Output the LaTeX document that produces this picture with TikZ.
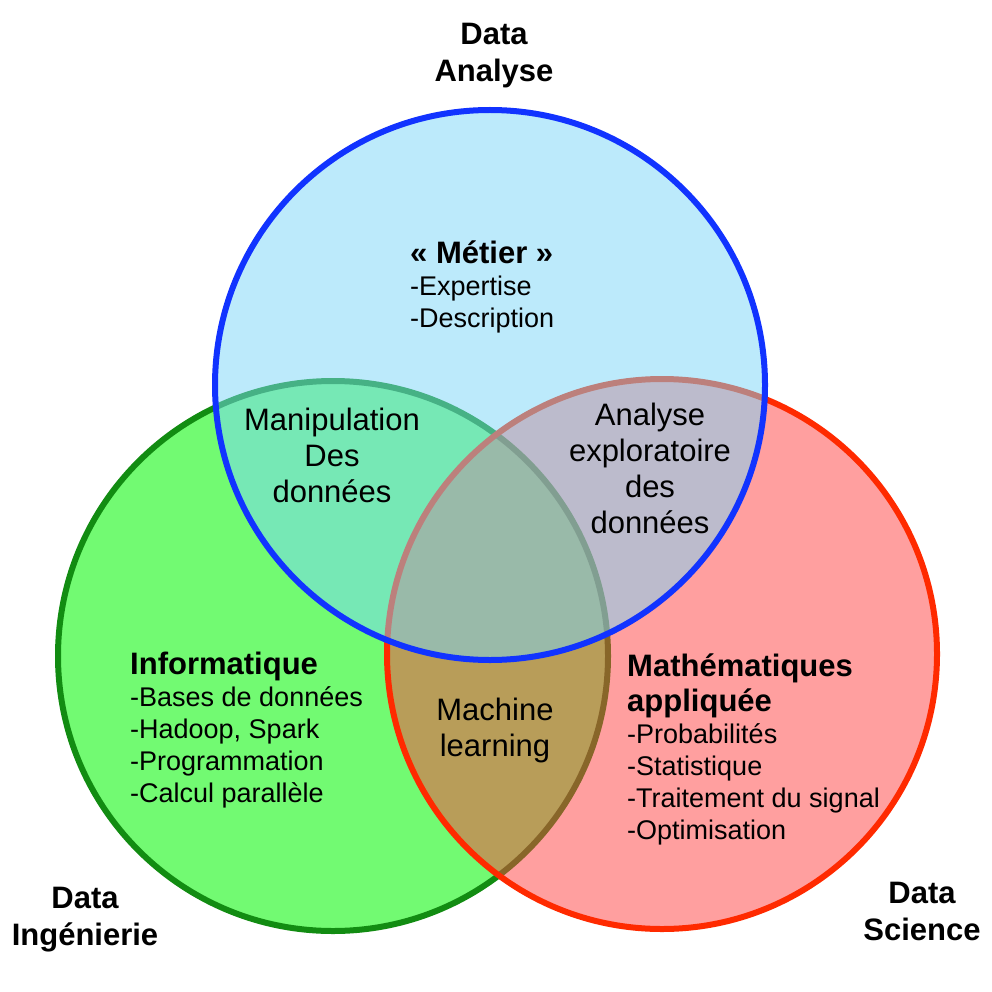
\documentclass[tikz,border=0pt]{standalone}
\usepackage{fontspec}
\setmainfont{Liberation Sans}

% circle colours
\definecolor{ingfill}{RGB}{114,250,114}
\definecolor{ingline}{RGB}{18,140,18}
\definecolor{scifill}{RGB}{255,65,65}
\definecolor{sciline}{RGB}{255,42,0}
\definecolor{anafill}{RGB}{123,215,249}
\definecolor{analine}{RGB}{17,51,255}

% bold title line inside a set
\newcommand\fieldtitlefont{\bfseries\fontsize{31}{32}\selectfont}

\begin{document}
\begin{tikzpicture}[x=1pt,y=-1pt,
  ring/.style={line width=6pt},
  heading/.style={font=\bfseries\fontsize{31}{37}\selectfont, align=center, inner sep=0pt, anchor=base},
  overlap/.style={font=\fontsize{31}{36}\selectfont, align=center, inner sep=0pt, anchor=base},
  field/.style={font=\fontsize{27}{32}\selectfont, align=left, inner sep=0pt, anchor=base west}
]
\useasboundingbox (0,0) rectangle (992,992);
\fill[white] (0,0) rectangle (992,992);

% circle centres
\coordinate (ing) at (333,656);
\coordinate (sci) at (662,654);
\coordinate (ana) at (490,385);

% the three sets, drawn bottom to top
\draw[ring, draw=ingline, fill=ingfill] (ing) circle[radius=275pt];
\draw[ring, draw=sciline, fill=scifill, fill opacity=0.5] (sci) circle[radius=275pt];
\draw[ring, draw=analine, fill=anafill, fill opacity=0.5] (ana) circle[radius=275pt];

% set names (positioned at the baseline of their last line)
\node[heading] (tana) at (494,82) {Data\\Analyse};
\node[heading] (ting) at (85,945) {Data\\Ingénierie};
\node[heading] (tsci) at (922,940) {Data\\Science};

% contents of each set
\node[field] (metier) at (410,327) {{\fieldtitlefont « Métier »}\\-Expertise\\-Description};
\node[field] (info) at (130,802) {{\fieldtitlefont Informatique}\\-Bases de données\\-Hadoop, Spark\\-Programmation\\-Calcul parallèle};
\node[field] (maths) at (627,839) {{\fieldtitlefont Mathématiques}\\[3pt]{\fieldtitlefont appliquée}\\-Probabilités\\-Statistique\\-Traitement du signal\\-Optimisation};

% pairwise overlaps
\node[overlap] (manip) at (332,502) {Manipulation\\Des\\données};
\node[overlap] (explo) at (650,533) {Analyse\\exploratoire\\des\\données};
\node[overlap] (ml) at (495,756) {Machine\\learning};
\end{tikzpicture}
\end{document}
